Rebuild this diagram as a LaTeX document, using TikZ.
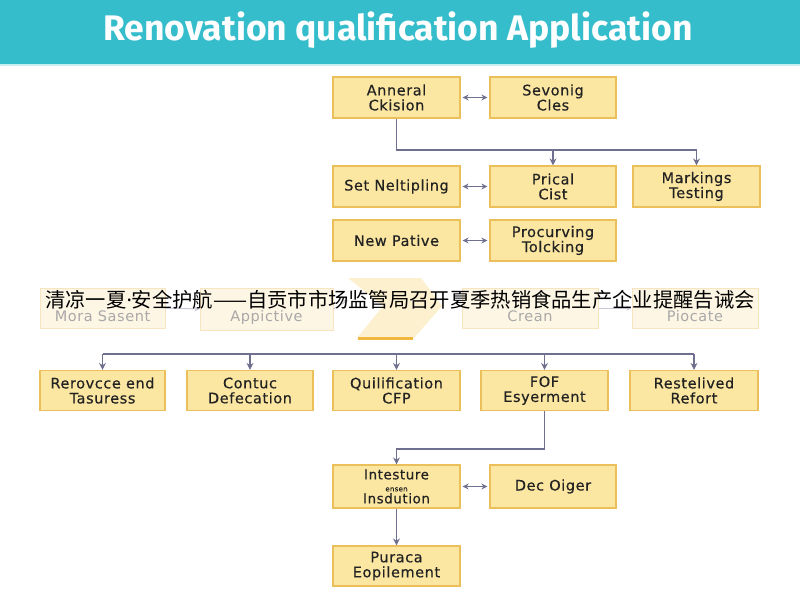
\documentclass[tikz,border=0pt]{standalone}
\usepackage{fontspec}
\setmainfont[LetterSpace=4,FakeBold=0.4]{DejaVu Sans}
\newfontfamily\fadedfont[LetterSpace=4]{DejaVu Sans}
\newfontfamily\titlefont{Fira Sans}
\newfontfamily\cjkfont{Noto Sans CJK SC}
\newfontfamily\dotfont{Noto Sans}
\usetikzlibrary{arrows.meta}
\definecolor{bannercol}{HTML}{36BDCC}
\definecolor{bannerline}{HTML}{C9EEF2}
\definecolor{boxfill}{HTML}{FBE6A2}
\definecolor{boxborder}{HTML}{EBC05A}
\definecolor{ffill}{HTML}{FEF6E4}
\definecolor{fborder}{HTML}{F7E5BF}
\definecolor{ftext}{HTML}{A8A8A8}
\definecolor{chevfill}{HTML}{FDF0CE}
\definecolor{chevedge}{HTML}{F0B840}
\definecolor{linecol}{HTML}{6F6F8F}
\definecolor{flinecol}{HTML}{C8C8D4}
\definecolor{boxtext}{HTML}{222222}
\begin{document}
\begin{tikzpicture}[x=1pt,y=-1pt,
  box/.style={draw=boxborder, fill=boxfill, line width=1.2pt, minimum width=127pt,
    minimum height=41pt, align=center, inner sep=1pt, text=boxtext, font=\fontsize{14.5}{15}\selectfont},
  fadedbox/.style={draw=fborder, fill=ffill, line width=1pt, minimum width=126pt,
    minimum height=40pt, align=center, text=ftext, inner sep=1pt, font=\fadedfont\fontsize{14.5}{15}\selectfont},
  fadedtext/.style={text=ftext, inner sep=1pt, font=\fadedfont\fontsize{14.5}{15}\selectfont},
  conn/.style={draw=linecol, line width=1.5pt},
  arr/.style={conn, -{Stealth[length=7pt,width=7pt]}},
  darr/.style={conn, {Stealth[length=6pt,width=6pt]}-{Stealth[length=6pt,width=6pt]}},
  farr/.style={draw=flinecol, line width=1pt, -{Stealth[length=5pt,width=5pt]}},
]
\useasboundingbox (0,0) rectangle (800,600);
\fill[white] (0,0) rectangle (800,600);
% banner
\fill[bannercol] (0,0) rectangle (800,64);
\fill[bannerline] (0,64) rectangle (800,66);
\node[text=white, font=\titlefont\bfseries\fontsize{35.5}{40}\selectfont] (title) at (398,30) {Renovation qualification Application};

% top section
\node[box] (A) at (396.5,97.5) {Anneral\\Ckision};
\node[box, minimum width=126pt] (B) at (553,97.5) {Sevonig\\Cles};
\node[box] (C) at (396.5,186.5) {Set Neltipling};
\node[box, minimum width=126pt] (D) at (553,186.5) {Prical\\Cist};
\node[box] (E) at (696.5,186.5) {Markings\\Testing};
\node[box] (F) at (396.5,240.5) {New Pative};
\node[box, minimum width=126pt] (G) at (553,240.5) {Procurving\\Tolcking};

\coordinate (J) at (0,150);
\draw[darr] ([xshift=2pt]A.east) -- ([xshift=-2pt]B.west);
\draw[arr] (A.south) -- (A.south |- J) -| (E.north);
\draw[arr] (D.north |- J) -- (D.north);
\draw[darr] ([xshift=2pt]C.east) -- ([xshift=-2pt]D.west);
\draw[darr] ([xshift=2pt]F.east) -- ([xshift=-2pt]G.west);

% faded row
\node[fadedbox, minimum width=125pt] (H1) at (102.5,308) {};
\node[fadedtext] (H1t) at (102.5,316) {Mora Sasent};
\node[fadedbox, minimum width=133pt, minimum height=42pt] (H2) at (266.5,309) {};
\node[fadedtext] (H2t) at (266.5,317) {Appictive};
\fill[chevfill] (348,278) -- (421,278) -- (442,306) -- (414,338) -- (357,338) -- (383,306) -- cycle;
\draw[chevedge, line width=3pt] (358,338) -- (413,338);
\node[fadedbox, minimum width=136pt] (H4) at (530,308) {};
\node[fadedtext] (H4t) at (530,316) {Crean};
\node[fadedbox] (H5) at (695,308) {};
\node[fadedtext] (H5t) at (695,316) {Piocate};
\draw[farr] (H1.east) -- (H2.west);
\draw[farr] (H2.east) -- (348,300);
\draw[farr] (H4.east) -- (H5.west);

% overlay caption
\node[font=\cjkfont\fontsize{20.3}{24}\selectfont, text=black, inner sep=0pt] (cap) at (400,300) {清凉一夏{\dotfont ·}安全护航——自贡市市场监管局召开夏季热销食品生产企业提醒告诫会};

% bottom row
\node[box, minimum width=125pt, minimum height=40pt] (R1) at (102.5,390.5) {Rerovcce end\\Tasuress};
\node[box, minimum width=126pt, minimum height=40pt] (R2) at (250,390.5) {Contuc\\Defecation};
\node[box, minimum height=40pt] (R3) at (396.5,390.5) {Quilification\\CFP};
\node[box, minimum height=40pt] (R4) at (544.5,390.5) {FOF\\Esyerment};
\node[box, minimum width=128pt, minimum height=40pt] (R5) at (694,390.5) {Restelived\\Refort};

\coordinate (L) at (0,354);
\draw[conn] (R1.north |- L) -- (R5.north |- L);
\foreach \r in {R1,R2,R3,R4,R5}
  \draw[arr] (\r.north |- L) -- (\r.north);

\node[box, minimum height=43pt, font=\fontsize{13.5}{13}\selectfont] (I) at (396.5,486.5) {Intesture\\[-1pt]{\fontsize{7}{7}\selectfont ensen}\\[-1pt]Insdution};
\node[box, minimum width=126pt, minimum height=43pt] (K) at (553,486.5) {Dec Oiger};
\node[box, minimum height=40pt] (P) at (396.5,566) {Puraca\\Eopilement};

\coordinate (M) at (0,449);
\draw[arr] (R4.south) -- (R4.south |- M) -| (I.north);
\draw[darr] ([xshift=2pt]I.east) -- ([xshift=-2pt]K.west);
\draw[arr] (I.south) -- (P.north);
\end{tikzpicture}
\end{document}
